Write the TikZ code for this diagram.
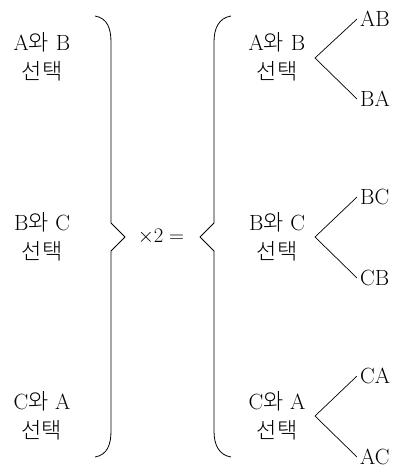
\documentclass[tikz,border=0pt]{standalone}
\usepackage{fontspec}
\newfontfamily\kr[UprightFont={* Light}]{Noto Sans CJK KR}
\begin{document}
\begin{tikzpicture}[x=1pt,y=-1pt,
  every node/.style={font=\fontsize{22}{29}\selectfont},
  grp/.style={align=center, inner sep=0pt},
  leaf/.style={anchor=west, inner sep=3pt},
  br/.style={line width=0.8pt, line join=round},
  tree/.style={line width=0.7pt}]
\useasboundingbox (0,0) rectangle (396,469);
% left column
\node[grp] (l1) at (42,57) {A{\kr 와} B\\{\kr 선택}};
\node[grp] (l2) at (42,237) {B{\kr 와} C\\{\kr 선택}};
\node[grp] (l3) at (42,416) {C{\kr 와} A\\{\kr 선택}};
% left brace
\coordinate (lbt) at (95,16);
\coordinate (lbm) at (125,237);
\coordinate (lbb) at (95,457);
\draw[br] (lbt) .. controls (107,18) and (111,28) .. (111,42)
  -- (111,223) -- (lbm) -- (111,251) -- (111,431)
  .. controls (111,445) and (107,455) .. (lbb);
% middle
\node (times) at (161,237) {$\times 2 =$};
% right brace
\coordinate (rbt) at (231,16);
\coordinate (rbm) at (200,237);
\coordinate (rbb) at (231,457);
\draw[br] (rbt) .. controls (219,18) and (214,28) .. (214,42)
  -- (214,223) -- (rbm) -- (214,251) -- (214,431)
  .. controls (214,445) and (219,455) .. (rbb);
% right groups
\node[grp] (r1) at (277,57) {A{\kr 와} B\\{\kr 선택}};
\node[grp] (r2) at (277,237) {B{\kr 와} C\\{\kr 선택}};
\node[grp] (r3) at (277,416) {C{\kr 와} A\\{\kr 선택}};
\coordinate (b1) at (315,58);
\coordinate (b2) at (315,237);
\coordinate (b3) at (315,416);
\node[leaf] (ab) at (357,19) {AB};
\node[leaf] (ba) at (357,99) {BA};
\node[leaf] (bc) at (357,197) {BC};
\node[leaf] (cb) at (357,278) {CB};
\node[leaf] (ca) at (357,376) {CA};
\node[leaf] (ac) at (357,457) {AC};
\draw[tree] (ab.west) -- (b1) -- (ba.west);
\draw[tree] (bc.west) -- (b2) -- (cb.west);
\draw[tree] (ca.west) -- (b3) -- (ac.west);
\end{tikzpicture}
\end{document}
